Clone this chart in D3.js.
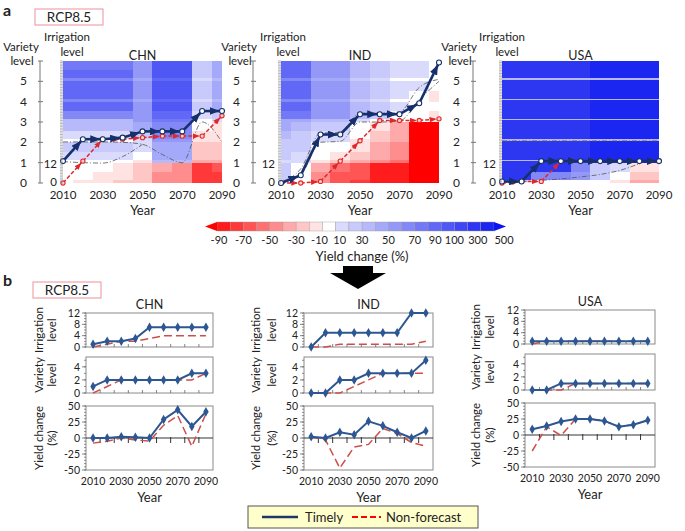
<!DOCTYPE html>
<html>
<head>
<meta charset="utf-8">
<script src="https://cdn.jsdelivr.net/npm/d3@7/dist/d3.min.js"></script>
<style>
html,body{margin:0;padding:0;background:#fff;}
svg{display:block;}
text{font-family:Lato,"Open Sans",Arial,sans-serif;fill:#222;}
</style>
</head>
<body>
<svg id="chart" width="685" height="531"></svg>
<script>
// ================= DATA =================
const years = [2010,2020,2030,2040,2050,2060,2070,2080,2090];
const yearTicks = [2010,2030,2050,2070,2090];
const varietyTicks = [0,1,2,3,4,5];

// adaptation paths (Timely vs Non-forecast)
const chnIrrTimely = [1,2,2,3,7,7,7,7,7];
const chnIrrNF     = [0,1,2,2,3,4,4,4,4];
const chnVarTimely = [1,2,2,2,2,2,2,3,3];
const chnVarNF     = [0,1,2,2,2,2,2,2,3];
const chnYieldTimely = [0,0,2,1,0,29,44,18,41];
const chnYieldNF     = [-8,-5,0,-3,-5,20,35,-13,38];

const indIrrTimely = [0,5,5,5,5,5,5,12,12];
const indIrrNF     = [0,0,1,1,1,1,1,1,2];
const indVarTimely = [0,0,2,2,3,3,3,3,5];
const indVarNF     = [0,0,0,1,2,3,3,3,3];
const indYieldTimely = [2,0,9,5,26,19,9,0,11];
const indYieldNF     = [2,-3,-47,-14,-10,15,7,-7,-13];

const usaIrrTimely = [1,1,1,1,1,1,1,1,1];
const usaIrrNF     = [0,1,1,1,1,1,1,1,1];
const usaVarTimely = [0,0,1,1,1,1,1,1,1];
const usaVarNF     = [0,0,0,1,1,1,1,1,1];
const usaYieldTimely = [9,14,21,25,25,22,13,16,23];
const usaYieldNF     = [-25,13,-1,25,25,22,13,16,23];

// uncertainty contours (variety-level units)
const chnGray1 = [2.02,2.02,2.02,2.0,1.9,1.4,1.0,3.0,2.0];
const chnGray2 = [1.05,1.0,0.98,1.3,1.9];
const indGray1 = [0.02,0.4,2.0,2.05,3.0,3.0,3.05,4.1,5.0];
const indGray2 = [0.05,0.7,2.45,2.5,3.45,3.45,3.5,4.7,5.1];
const usaGray1 = [2.07,2.07,2.07,2.07,2.07,2.07,2.07,2.07,2.07];
const usaGray2 = [0.02,0.07,0.13,0.2,0.3,0.42,0.62,0.95];

// heat-map rows: irrigation sub-bands inside each variety level (0..5)
const heatSub = [[0,1],[1,2],[2,7],[7,13]];
// yield change (%) rows from bottom (variety 0, irr 0) to top, columns = years
const chnHeat = [
 [0,-12,-15,-22,-28,-45,-50,-78,-72],
 [0,-12,-15,-22,-28,-45,-50,-78,-72],
 [0,0,-13,-20,-28,-45,-50,-78,-72],
 [0,0,0,-15,-25,-40,-45,-75,-70],
 [0,0,5,5,-18,30,30,-35,-35],
 [0,0,5,5,-15,30,30,-35,-35],
 [12,12,12,12,0,40,40,-30,-30],
 [20,20,20,20,15,45,45,-25,-25],
 [5,5,5,5,12,50,50,-20,-20],
 [5,5,5,5,12,50,50,-20,-20],
 [15,15,15,15,22,60,60,-15,-20],
 [30,30,30,30,45,65,65,0,-12],
 [35,35,35,35,50,70,70,5,12],
 [35,35,35,35,50,70,70,5,12],
 [60,60,60,60,55,85,85,15,25],
 [80,80,80,80,55,95,95,25,45],
 [60,60,60,60,40,80,80,15,30],
 [60,60,60,60,40,80,80,15,30],
 [80,80,80,80,55,95,95,25,45],
 [80,80,80,80,55,95,95,25,45],
 [60,60,60,60,40,80,80,15,30],
 [60,60,60,60,40,80,80,15,30],
 [80,80,80,80,55,95,95,25,45],
 [75,75,75,75,50,90,90,22,40]
];
const indHeat = [
 [0,0,-45,-65,-72,-90,-90,-95,-95],
 [0,0,-45,-65,-72,-90,-90,-95,-95],
 [20,0,-42,-62,-70,-88,-88,-95,-95],
 [20,0,-35,-60,-65,-85,-85,-95,-95],
 [15,15,-12,-22,-32,-45,-55,-95,-95],
 [15,15,-12,-22,-32,-45,-55,-95,-95],
 [20,15,0,-12,-25,-40,-50,-95,-95],
 [25,20,5,0,-20,-35,-45,-95,-95],
 [25,20,12,12,-12,-30,-40,-95,-95],
 [25,20,12,12,-12,-30,-40,-95,-95],
 [30,25,15,15,0,-25,-38,-95,-95],
 [40,35,25,25,5,-20,-35,-95,-95],
 [45,40,30,30,15,5,0,-5,-15],
 [45,40,30,30,15,5,0,-5,-15],
 [70,70,50,50,30,20,8,0,-12],
 [80,80,55,55,35,25,12,5,0],
 [60,60,45,45,25,15,5,5,-12],
 [60,60,45,45,25,15,5,5,-12],
 [80,80,55,55,35,25,12,5,-12],
 [80,80,55,55,35,25,12,12,0],
 [60,60,45,45,25,15,8,8,0],
 [60,60,45,45,25,15,8,8,0],
 [80,80,55,55,35,25,15,12,5],
 [80,80,55,55,35,25,15,12,5]
];
const usaHeat = [
 [0,0,0,0,0,0,-15,-40,-40],
 [15,15,5,5,0,0,-12,-35,-35],
 [250,250,60,60,50,25,5,-25,-25],
 [250,250,250,250,60,25,12,-15,-15],
 [250,250,250,250,250,350,350,350,350],
 [35,35,35,35,35,35,35,35,35],
 [250,250,250,250,250,350,350,350,350],
 [250,250,250,250,250,350,350,350,350],
 [250,250,250,250,250,350,350,350,350],
 [35,35,35,35,35,35,35,35,35],
 [250,250,250,250,250,350,350,350,350],
 [250,250,250,250,250,350,350,350,350],
 [250,250,250,250,250,350,350,350,350],
 [35,35,35,35,35,35,35,35,35],
 [250,250,250,250,250,350,350,350,350],
 [250,250,250,250,250,350,350,350,350],
 [250,250,250,250,250,350,350,350,350],
 [35,35,35,35,35,35,35,35,35],
 [250,250,250,250,250,350,350,350,350],
 [250,250,250,250,250,350,350,350,350],
 [250,250,250,250,250,350,350,350,350],
 [35,35,35,35,35,35,35,35,35],
 [250,250,250,250,250,350,350,350,350],
 [250,250,250,250,250,350,350,350,350]
];

// colour bar
const cbBreaks = [-90,-80,-70,-60,-50,-40,-30,-20,-10,10,20,30,40,50,60,70,80,90,100,200,300,400];
const cbLabels = [-90,-70,-50,-30,-10,10,30,50,70,90,100,300];
const cbEndLabel = "500";

// bottom axes ticks
const irrTicks = [0,4,8,12];
const varTicks = [0,2,4];
const yieldTicks = [-50,-25,0,25,50];

// ================= DRAW =================
const svg = d3.select("#chart");
const defs = svg.append("defs");

const redI = d3.interpolateRgb("#ff0000", "#ffe2e2");
const blueI = d3.interpolateRgb("#d9dafc", "#0a16f0");
function binColor(b){ if(b<=8) return redI(b/8); if(b===9) return "#ffffff"; return blueI((b-10)/12); }
const colorOf = v => binColor(d3.bisectRight(cbBreaks, v));

function marker(id, color, w, h, ref){
  defs.append("marker").attr("id",id).attr("viewBox",`0 0 ${w} ${h}`)
    .attr("refX",ref).attr("refY",h/2).attr("markerWidth",w).attr("markerHeight",h)
    .attr("markerUnits","userSpaceOnUse").attr("orient","auto")
    .append("path").attr("d",`M0,0L${w},${h/2}L0,${h}Z`).attr("fill",color);
}
marker("arrB","#15306c",10,8,12.5);
marker("arrR","#e0282a",7,5.5,9.5);

function txt(x,y,s,size,anchor,extra){
  const t = svg.append("text").attr("x",x).attr("y",y).attr("font-size",size)
    .attr("text-anchor",anchor||"start").text(s);
  if(extra) extra(t);
  return t;
}

// panel labels & RCP boxes
txt(3,16,"a",16,"start",t=>t.attr("font-weight","bold"));
txt(3,286,"b",16,"start",t=>t.attr("font-weight","bold"));
function rcpBox(x,y){
  svg.append("rect").attr("x",x).attr("y",y).attr("width",68).attr("height",16)
    .attr("fill","#fff").attr("stroke","#f0a3ad").attr("stroke-width",1.2);
  txt(x+34,y+13,"RCP8.5",13.5,"middle");
}
rcpBox(35,9); rcpBox(33,282);

// ---------- panel a : heat maps ----------
const hmY = d3.scaleLinear().domain([0,6]).range([183,61]);
const topPanels = [
 {name:"CHN", x0:63, x1:222, axis:40, varLab:21, irrLab:67, heat:chnHeat,
  irrT:chnIrrTimely, irrN:chnIrrNF, varT:chnVarTimely, varN:chnVarNF, grays:[chnGray1,chnGray2]},
 {name:"IND", x0:281, x1:439, axis:253, varLab:239, irrLab:283, heat:indHeat,
  irrT:indIrrTimely, irrN:indIrrNF, varT:indVarTimely, varN:indVarNF, grays:[indGray1,indGray2]},
 {name:"USA", x0:502, x1:659, axis:473, varLab:459, irrLab:502, heat:usaHeat,
  irrT:usaIrrTimely, irrN:usaIrrNF, varT:usaVarTimely, varN:usaVarNF, grays:[usaGray1,usaGray2]}
];

topPanels.forEach(p=>{
  const g = svg.append("g");
  const x = d3.scaleLinear().domain([2010,2090]).range([p.x0,p.x1]);
  p.heat.forEach((row,ri)=>{
    const v = Math.floor(ri/4), sb = heatSub[ri%4];
    row.forEach((val,ci)=>{
      const yr = years[ci];
      const xa = x(Math.max(2010,yr-5)), xb = x(Math.min(2090,yr+5));
      const yt = hmY(v+sb[1]/13), yb = hmY(v+sb[0]/13);
      g.append("rect").attr("x",xa).attr("y",yt).attr("width",xb-xa).attr("height",yb-yt)
        .attr("fill",colorOf(val)).attr("shape-rendering","crispEdges");
    });
  });
  const lg = d3.line().x((d,i)=>x(years[i])).y(d=>hmY(d)).curve(d3.curveMonotoneX);
  p.grays.forEach(arr=>{
    g.append("path").attr("d",lg(arr)).attr("fill","none").attr("stroke","#555")
      .attr("stroke-width",0.8).attr("stroke-dasharray","5,2,1,2");
  });
  function drawPath(irr, vr, color, width, dash, mk, r, fill){
    const pts = years.map((yr,i)=>[x(yr), hmY(vr[i]+irr[i]/13)]);
    for(let i=0;i<pts.length-1;i++){
      const l = g.append("line").attr("x1",pts[i][0]).attr("y1",pts[i][1])
        .attr("x2",pts[i+1][0]).attr("y2",pts[i+1][1])
        .attr("stroke",color).attr("stroke-width",width).attr("marker-end",`url(#${mk})`);
      if(dash) l.attr("stroke-dasharray",dash);
    }
    pts.forEach(pt=>g.append("circle").attr("cx",pt[0]).attr("cy",pt[1]).attr("r",r)
      .attr("fill",fill).attr("stroke",color).attr("stroke-width",1.1));
  }
  drawPath(p.irrN,p.varN,"#e0282a",1.5,"4,2","arrR",2.1,"#fbd0d0");
  drawPath(p.irrT,p.varT,"#15306c",2.6,null,"arrB",2.5,"#ffffff");

  g.append("line").attr("x1",p.axis).attr("x2",p.axis).attr("y1",hmY(0)).attr("y2",hmY(6))
    .attr("stroke","#777").attr("stroke-width",1);
  d3.range(0,7).forEach(v=>{
    g.append("line").attr("x1",p.axis-2).attr("x2",p.axis+3).attr("y1",hmY(v)).attr("y2",hmY(v))
      .attr("stroke","#777").attr("stroke-width",1);
  });
  varietyTicks.forEach(v=>txt(p.axis-13,hmY(v)+4,String(v),12,"end"));
  d3.range(0,79).forEach(s=>{
    g.append("line").attr("x1",p.x0-3).attr("x2",p.x0).attr("y1",hmY(s/13)).attr("y2",hmY(s/13))
      .attr("stroke","#888").attr("stroke-width",0.6);
  });
  txt(p.x0-6,hmY(0)+3,"0",11.5,"end");
  txt(p.x0-6,hmY(12/13)+4,"12",11.5,"end");
  txt((p.x0+p.x1)/2,59.5,p.name,12.5,"middle");
  txt(p.varLab,51,"Variety",11.5,"middle");
  txt(p.varLab+1,65,"level",11.5,"middle");
  txt(p.irrLab,41,"Irrigation",11.5,"middle");
  txt(p.irrLab+5,56,"level",11.5,"middle");
  yearTicks.forEach(yr=>txt(x(yr),198.5,String(yr),11.5,"middle"));
  txt((p.x0+p.x1)/2,215,"Year",13,"middle");
});

// ---------- colour bar ----------
const cbX = d3.scaleLinear().domain([0,cbBreaks.length-1]).range([217,494]);
const cbTop = 222, cbBot = 231;
for(let k=0;k<cbBreaks.length-1;k++){
  svg.append("rect").attr("x",cbX(k)).attr("y",cbTop).attr("width",cbX(k+1)-cbX(k)).attr("height",cbBot-cbTop)
    .attr("fill",binColor(k+1)).attr("stroke","#999").attr("stroke-width",0.4);
}
svg.append("polygon").attr("points",`${cbX(0)-12},${(cbTop+cbBot)/2} ${cbX(0)},${cbTop} ${cbX(0)},${cbBot}`)
  .attr("fill",binColor(0));
const cbLast = cbX(cbBreaks.length-1);
svg.append("polygon").attr("points",`${cbLast},${cbTop} ${cbLast+12},${(cbTop+cbBot)/2} ${cbLast},${cbBot}`)
  .attr("fill",binColor(22));
const cbNudge = {"-90":2,"-10":-3,"10":4,"90":-6,"100":0,"300":-3};
cbLabels.forEach(v=>txt(cbX(cbBreaks.indexOf(v))+(cbNudge[String(v)]||0),244,String(v),11,"middle"));
txt(cbLast+10,244,cbEndLabel,11,"middle");
txt(362,260.5,"Yield change (%)",13,"middle");

// black arrow
svg.append("polygon").attr("points","343,266 373,266 373,273 386,273 358,289 330,273 343,273").attr("fill","#000");

// ---------- panel b : line charts ----------
const botPanels = [
 {name:"CHN", fx0:86, fx1:213, dy:0, l1:38.5, l2:52,
  irrT:chnIrrTimely, irrN:chnIrrNF, varT:chnVarTimely, varN:chnVarNF, yT:chnYieldTimely, yN:chnYieldNF},
 {name:"IND", fx0:304, fx1:433, dy:0, l1:256, l2:271.5,
  irrT:indIrrTimely, irrN:indIrrNF, varT:indVarTimely, varN:indVarNF, yT:indYieldTimely, yN:indYieldNF},
 {name:"USA", fx0:525, fx1:655, dy:-3, l1:476, l2:490,
  irrT:usaIrrTimely, irrN:usaIrrNF, varT:usaVarTimely, varN:usaVarNF, yT:usaYieldTimely, yN:usaYieldNF}
];
const blueC = "#2d5792", redC = "#cc4f4a";
botPanels.forEach(p=>{
  const g = svg.append("g");
  const x = d3.scaleLinear().domain([2005,2095]).range([p.fx0,p.fx1]);
  const rows = [
   {dom:[0,12], r:[347,313], ticks:irrTicks, minor:1, lab:["Irrigation","level"], T:p.irrT, N:p.irrN, zero:false},
   {dom:[0,5.5], r:[393,357], ticks:varTicks, minor:1, lab:["Variety","level"], T:p.varT, N:p.varN, zero:false},
   {dom:[-50,50], r:[470,406], ticks:yieldTicks, minor:5, lab:["Yield change","(%)"], T:p.yT, N:p.yN, zero:true}
  ];
  rows.forEach(rw=>{
    const y = d3.scaleLinear().domain(rw.dom).range([rw.r[0]+p.dy, rw.r[1]+p.dy]);
    const yb = rw.r[0]+p.dy, yt = rw.r[1]+p.dy;
    g.append("rect").attr("x",p.fx0).attr("y",yt).attr("width",p.fx1-p.fx0).attr("height",yb-yt)
      .attr("fill","#fff").attr("stroke","#8a8a8a").attr("stroke-width",1);
    d3.range(rw.dom[0], rw.dom[1]+0.001, rw.minor).forEach(v=>{
      g.append("line").attr("x1",p.fx0-2).attr("x2",p.fx0).attr("y1",y(v)).attr("y2",y(v))
        .attr("stroke","#666").attr("stroke-width",0.7);
    });
    rw.ticks.forEach(v=>{
      g.append("line").attr("x1",p.fx0-4).attr("x2",p.fx0).attr("y1",y(v)).attr("y2",y(v))
        .attr("stroke","#666").attr("stroke-width",0.8);
      txt(p.fx0-6,y(v)+3.8,String(v),10.5,"end");
    });
    const cats = d3.range(2015,2090,10);
    if(rw.zero){
      g.append("line").attr("x1",p.fx0).attr("x2",p.fx1).attr("y1",y(0)).attr("y2",y(0))
        .attr("stroke","#333").attr("stroke-width",1);
      cats.forEach(c=>g.append("line").attr("x1",x(c)).attr("x2",x(c)).attr("y1",y(0)-1).attr("y2",y(0)+5)
        .attr("stroke","#333").attr("stroke-width",1));
    } else {
      cats.forEach(c=>g.append("line").attr("x1",x(c)).attr("x2",x(c)).attr("y1",yb).attr("y2",yb-3)
        .attr("stroke","#666").attr("stroke-width",0.8));
    }
    const ln = d3.line().x((d,i)=>x(years[i])).y(d=>y(d));
    g.append("path").attr("d",ln(rw.N)).attr("fill","none").attr("stroke",redC)
      .attr("stroke-width",1.5).attr("stroke-dasharray","8,4");
    g.append("path").attr("d",ln(rw.T)).attr("fill","none").attr("stroke",blueC).attr("stroke-width",2);
    rw.T.forEach((d,i)=>{
      g.append("path").attr("d",d3.symbol().type(d3.symbolDiamond).size(26)())
        .attr("transform",`translate(${x(years[i])},${y(d)})`).attr("fill",blueC);
    });
    const cy = (yb+yt)/2;
    [[rw.lab[0],p.l1],[rw.lab[1],p.l2]].forEach(([s,lx])=>{
      svg.append("text").attr("transform",`translate(${lx+4},${cy}) rotate(-90)`)
        .attr("text-anchor","middle").attr("font-size",11.5).text(s);
    });
  });
  txt((p.fx0+p.fx1)/2,309+p.dy,p.name,12.5,"middle");
  yearTicks.forEach(yr=>txt(x(yr),485+p.dy,String(yr),10.5,"middle"));
  txt((p.fx0+p.fx1)/2,502+p.dy,"Year",13,"middle");
});

// ---------- legend ----------
svg.append("rect").attr("x",248).attr("y",506).attr("width",230).attr("height",22)
  .attr("fill","#ffffcc").attr("stroke","#555").attr("stroke-width",1);
svg.append("line").attr("x1",262).attr("x2",298).attr("y1",517).attr("y2",517)
  .attr("stroke","#1f3864").attr("stroke-width",2.5);
txt(305,521.5,"Timely",13);
svg.append("line").attr("x1",352).attr("x2",381).attr("y1",517).attr("y2",517)
  .attr("stroke","#ff0000").attr("stroke-width",2).attr("stroke-dasharray","6,3");
txt(386,521.5,"Non-forecast",13);
</script>
</body>
</html>
